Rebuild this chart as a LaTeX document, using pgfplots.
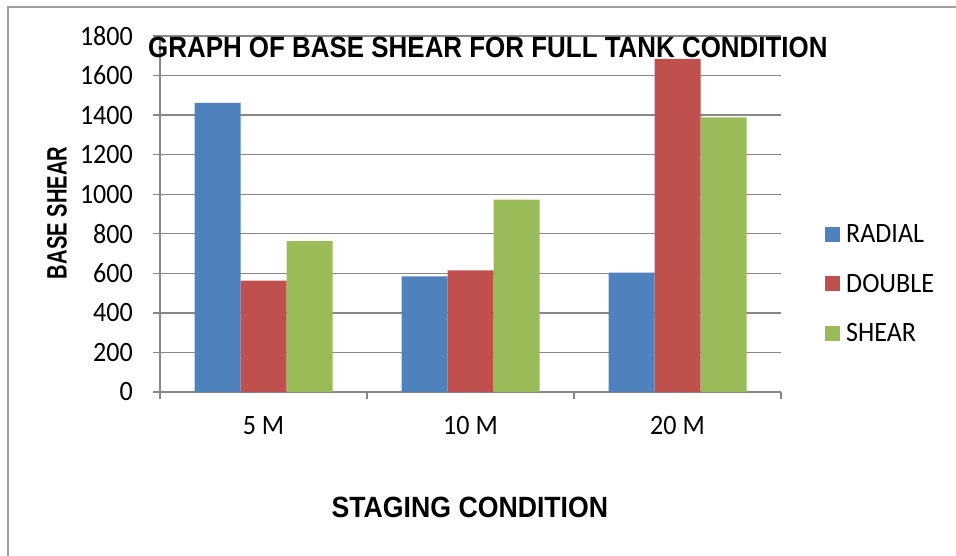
\documentclass[border=0pt]{standalone}
\usepackage{fontspec}
\setmainfont{Carlito}
\newfontfamily\regf{Carlito}[FakeStretch=0.93]
\newfontfamily\titf{Liberation Sans Bold}[FakeStretch=0.885]
\newfontfamily\xlabf{Liberation Sans Bold}[FakeStretch=0.91]
\newfontfamily\ylabf{Liberation Sans Bold}[FakeStretch=0.72]
\usepackage{pgfplots}
\pgfplotsset{compat=1.18}
\definecolor{cblue}{HTML}{4F81BD}
\definecolor{cred}{HTML}{C0504D}
\definecolor{cgreen}{HTML}{9BBB59}
\definecolor{cgrid}{HTML}{878787}
\begin{document}
\begin{tikzpicture}
\path[use as bounding box] (0pt,0pt) rectangle (956pt,-556pt);
\draw[color=cgrid!80, line width=1.5pt] (8pt,-7pt) rectangle (975pt,-575pt);
\begin{axis}[
  at={(160pt,-392pt)}, anchor=south west,
  scale only axis, width=621pt, height=356pt,
  ybar=0pt, bar width=46pt,
  xmin=-0.5, xmax=2.5, ymin=0, ymax=1800,
  ytick={0,200,...,1800},
  xtick={-0.5,0.5,1.5,2.5}, xticklabels={},
  extra x ticks={0,1,2},
  extra x tick labels={5 M,10 M,20 M},
  extra x tick style={major tick length=0pt, grid=none},
  axis lines*=left,
  axis line style={cgrid, line width=1.3pt, -},
  ymajorgrids, major grid style={cgrid, line width=1.3pt},
  tick align=outside, major tick length=7pt,
  tick style={cgrid, line width=1.3pt},
  /pgf/number format/assume math mode=true,
  /pgf/number format/1000 sep={},
  tick label style={font=\regf\fontsize{28}{28}\selectfont, inner sep=0pt},
  yticklabel style={anchor=east, xshift=-20pt},
  xticklabel style={anchor=center},
  extra x tick style={xticklabel style={anchor=center, yshift=-34pt}},
  every axis title shift=0pt,
  title={GRAPH OF BASE SHEAR FOR FULL TANK CONDITION},
  title style={at={(0.528,0.941)}, anchor=base, yshift=0pt, inner sep=0pt, font=\titf\fontsize{29.3}{29.3}\selectfont},
  ylabel={BASE SHEAR},
  ylabel style={at={(axis description cs:-0.166,0.503)}, anchor=center, inner sep=0pt, rotate=0, font=\ylabf\fontsize{28}{28}\selectfont},
  xlabel={STAGING CONDITION},
  xlabel style={at={(axis description cs:0.499,-0.323)}, anchor=center, inner sep=0pt, font=\xlabf\fontsize{29.3}{29.3}\selectfont},
  legend cell align=left,
  legend style={at={(1.0709,0.3034)}, anchor=west, draw=none, fill=none,
    font=\regf\fontsize{28}{28}\selectfont, inner sep=0pt,
    nodes={inner sep=0pt}, row sep=30pt,
    /tikz/every odd column/.style={column sep=6pt}},
  legend image code/.code={\fill[#1] (0pt,-7.5pt) rectangle (15pt,7.5pt);},
]
\addplot[fill=cblue, draw=none] coordinates {(0,1462) (1,584) (2,603)};
\addplot[fill=cred, draw=none] coordinates {(0,563) (1,615) (2,1684)};
\addplot[fill=cgreen, draw=none] coordinates {(0,763) (1,973) (2,1389)};
\legend{RADIAL,DOUBLE,SHEAR}
\end{axis}
\end{tikzpicture}
\end{document}
